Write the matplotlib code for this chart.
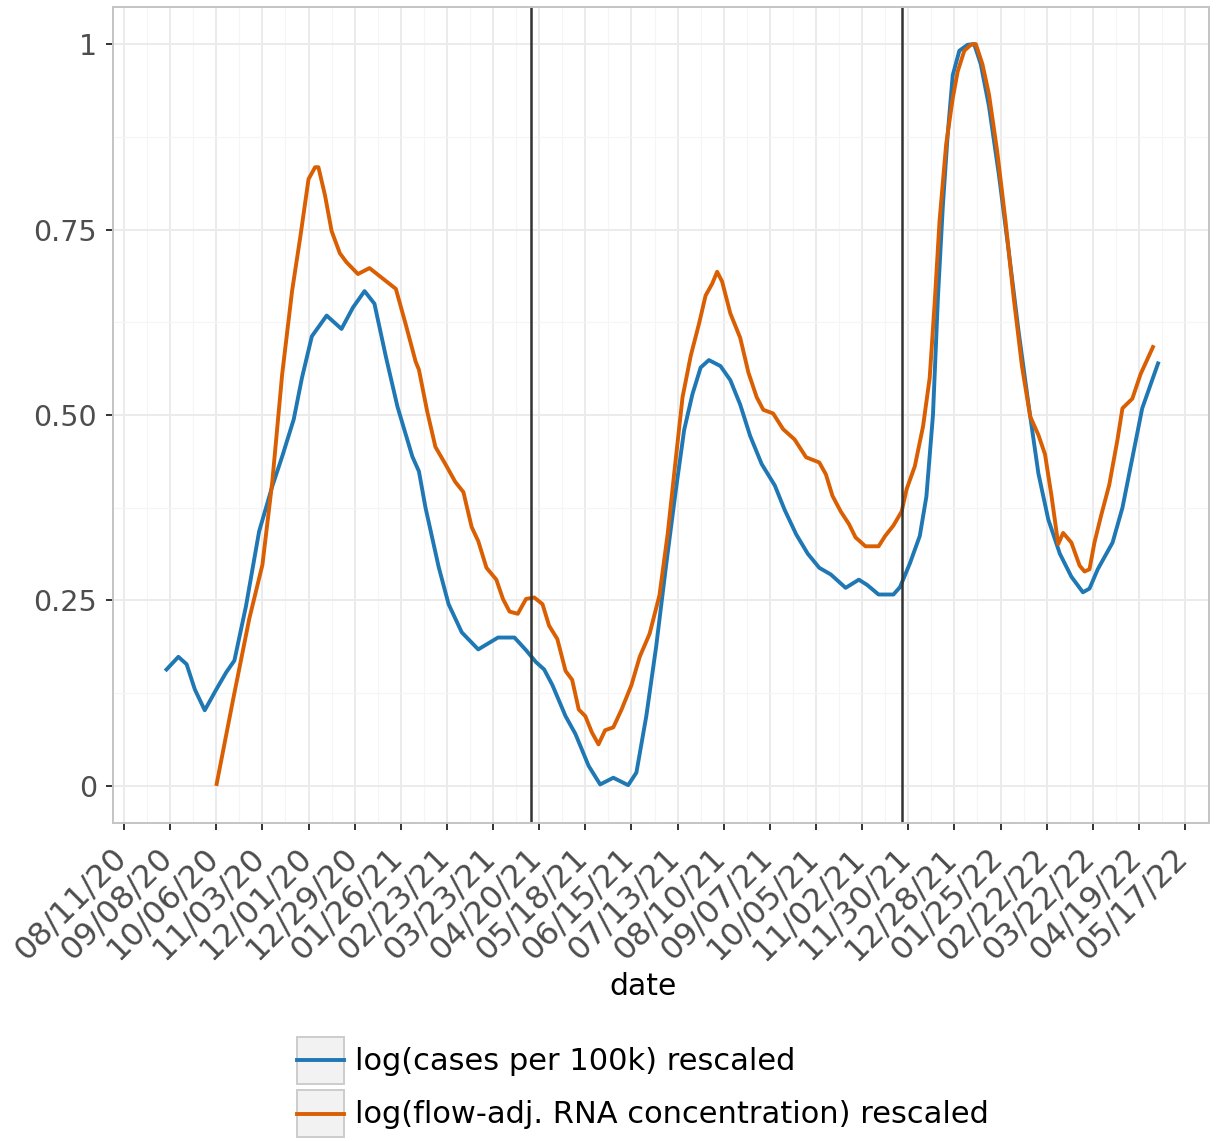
import pandas as pd
import matplotlib
matplotlib.use('Agg')
import matplotlib.pyplot as plt
import matplotlib.transforms as mtransforms
from matplotlib.lines import Line2D
from matplotlib.patches import Rectangle

start = pd.Timestamp('2020-08-11')

# days since 2020-08-11 and the rescaled log values
cases_days = [25, 33, 38, 43, 49, 56, 62, 67, 74, 82, 90, 96, 103, 108, 114, 123, 132,
              139, 146, 152, 159, 166, 175, 179, 183, 187, 191, 197, 205, 215, 227, 237,
              244, 250, 255, 260, 268, 274, 282, 289, 297, 306, 311, 317, 323, 329, 335,
              340, 345, 350, 355, 362, 368, 374, 380, 387, 395, 401, 408, 415, 422, 429,
              438, 446, 451, 458, 467, 471, 477, 483, 487, 491, 494, 497, 500, 503, 507,
              512, 516, 520, 525, 531, 537, 543, 549, 555, 561, 568, 575, 582, 586, 591,
              600, 606, 612, 618, 628]
cases_vals = [0.155, 0.174, 0.164, 0.130, 0.102, 0.130, 0.153, 0.169, 0.242, 0.343, 0.404,
              0.444, 0.494, 0.550, 0.606, 0.634, 0.616, 0.645, 0.667, 0.650, 0.578, 0.511,
              0.444, 0.424, 0.375, 0.335, 0.295, 0.245, 0.207, 0.184, 0.200, 0.200, 0.183,
              0.167, 0.157, 0.136, 0.094, 0.070, 0.027, 0.002, 0.011, 0.001, 0.018, 0.094,
              0.188, 0.297, 0.400, 0.480, 0.528, 0.564, 0.574, 0.566, 0.547, 0.514, 0.472,
              0.434, 0.405, 0.372, 0.339, 0.313, 0.294, 0.285, 0.267, 0.278, 0.271, 0.258,
              0.258, 0.268, 0.300, 0.337, 0.390, 0.500, 0.658, 0.782, 0.880, 0.958, 0.991,
              0.999, 1.000, 0.973, 0.916, 0.824, 0.720, 0.612, 0.514, 0.421, 0.359, 0.313,
              0.282, 0.261, 0.266, 0.292, 0.328, 0.375, 0.442, 0.509, 0.572]

rna_days = [56, 66, 76, 84, 90, 96, 102, 107, 112, 116, 118, 122, 126, 131, 135, 142, 149,
            157, 165, 171, 177, 179, 184, 189, 195, 201, 206, 211, 215, 220, 226, 230, 234,
            239, 244, 249, 254, 258, 263, 268, 272, 276, 280, 284, 288, 292, 297, 302, 308,
            313, 319, 325, 330, 335, 339, 344, 349, 353, 357, 360, 363, 368, 374, 379, 384,
            388, 394, 400, 407, 414, 422, 426, 430, 435, 440, 444, 450, 458, 462, 467, 472,
            475, 480, 485, 489, 492, 495, 499, 503, 506, 510, 514, 517, 521, 525, 530, 535,
            540, 545, 550, 555, 559, 563, 567, 570, 575, 580, 583, 586, 589, 593, 598, 603,
            606, 612, 617, 625]
rna_vals = [0.000, 0.114, 0.225, 0.298, 0.410, 0.555, 0.667, 0.740, 0.818, 0.834, 0.834,
            0.796, 0.748, 0.718, 0.706, 0.690, 0.698, 0.684, 0.670, 0.622, 0.572, 0.561,
            0.505, 0.457, 0.434, 0.410, 0.396, 0.349, 0.330, 0.294, 0.278, 0.252, 0.235,
            0.232, 0.252, 0.254, 0.245, 0.216, 0.198, 0.155, 0.143, 0.103, 0.094, 0.072,
            0.056, 0.075, 0.079, 0.103, 0.136, 0.174, 0.205, 0.257, 0.340, 0.443, 0.524,
            0.580, 0.623, 0.661, 0.677, 0.693, 0.680, 0.637, 0.604, 0.557, 0.524, 0.507,
            0.502, 0.481, 0.467, 0.443, 0.436, 0.420, 0.391, 0.370, 0.353, 0.335, 0.323,
            0.323, 0.337, 0.351, 0.370, 0.400, 0.431, 0.485, 0.550, 0.650, 0.762, 0.865,
            0.927, 0.963, 0.991, 0.999, 1.000, 0.973, 0.932, 0.855, 0.762, 0.658, 0.566,
            0.498, 0.473, 0.447, 0.390, 0.326, 0.341, 0.328, 0.297, 0.289, 0.292, 0.328,
            0.364, 0.406, 0.467, 0.509, 0.522, 0.555, 0.594]

vline_dates = ['2021-04-15', '2021-11-26']

labels = ['log(cases per 100k) rescaled', 'log(flow-adj. RNA concentration) rescaled']
colors = ['#1f78b4', '#d95f02']

y_ticks = [0, 0.25, 0.5, 0.75, 1]
y_ticklabels = ['0', '0.25', '0.50', '0.75', '1']


class KeyHandler:
    """Grey key box with the series line through its middle."""

    def legend_artist(self, legend, orig_handle, fontsize, handlebox):
        x0, y0 = -handlebox.xdescent, -handlebox.ydescent
        w, h = handlebox.width, handlebox.height
        tr = handlebox.get_transform()
        box = Rectangle((x0, y0), w, h, facecolor='#f2f2f2', edgecolor='#cccccc',
                        lw=1.4, transform=tr)
        line = Line2D([x0, x0 + w], [y0 + h / 2] * 2, color=orig_handle.get_color(),
                      lw=2.8, transform=tr)
        handlebox.add_artist(box)
        handlebox.add_artist(line)
        return line


fig = plt.figure(figsize=(12.16, 11.41), dpi=100)
ax = fig.add_axes([0.0929, 0.2787, 0.9013, 0.7152])

l1, = ax.plot(start + pd.to_timedelta(cases_days, unit='D'), cases_vals, color=colors[0],
              lw=2.8, solid_capstyle='butt', solid_joinstyle='round')
l2, = ax.plot(start + pd.to_timedelta(rna_days, unit='D'), rna_vals, color=colors[1],
              lw=2.8, solid_capstyle='butt', solid_joinstyle='round')

for d in vline_dates:
    ax.axvline(pd.Timestamp(d), color='#333333', lw=1.8)

# axes: dates every four weeks
major = pd.date_range(start, periods=24, freq='28D')
minor = pd.date_range(start + pd.Timedelta(days=14), periods=23, freq='28D')
ax.set_xticks(major)
ax.set_xticklabels(major.strftime('%m/%d/%y'), rotation=45, ha='right',
                   rotation_mode='anchor', fontsize=23)
ax.set_xticks(minor, minor=True)
ax.set_xlim(start - pd.Timedelta(days=6.7), start + pd.Timedelta(days=658.5))

ax.set_yticks(y_ticks)
ax.set_yticklabels(y_ticklabels, fontsize=20.5)
ax.set_yticks([0.125, 0.375, 0.625, 0.875], minor=True)
ax.set_ylim(-0.05, 1.05)

ax.tick_params(which='major', length=5, width=1.4, color='#333333', labelcolor='#4d4d4d',
               pad=6.5)
ax.tick_params(which='minor', length=0)

# nudge the rotated date labels so they end just left of their ticks
shift = mtransforms.ScaledTranslation(-0.13, -0.03, fig.dpi_scale_trans)
for lab in ax.get_xticklabels():
    lab.set_transform(lab.get_transform() + shift)

ax.grid(which='major', color='#ebebeb', lw=1.4)
ax.grid(which='minor', color='#f5f5f5', lw=0.8)
ax.set_axisbelow(True)
for s in ax.spines.values():
    s.set_color('#c4c4c4')
    s.set_linewidth(1.4)

ax.set_xlabel('date', fontsize=21.5, color='black')
ax.xaxis.set_label_coords(0.484, -0.1826)

fig.legend([l1, l2], labels, handler_map={Line2D: KeyHandler()}, loc='center',
           bbox_to_anchor=(0.529, 0.0473), frameon=False, fontsize=22,
           handlelength=1.54, handleheight=1.99, handletextpad=0.36, labelspacing=0.2,
           borderpad=0)

plt.savefig('out.png', dpi=100)
